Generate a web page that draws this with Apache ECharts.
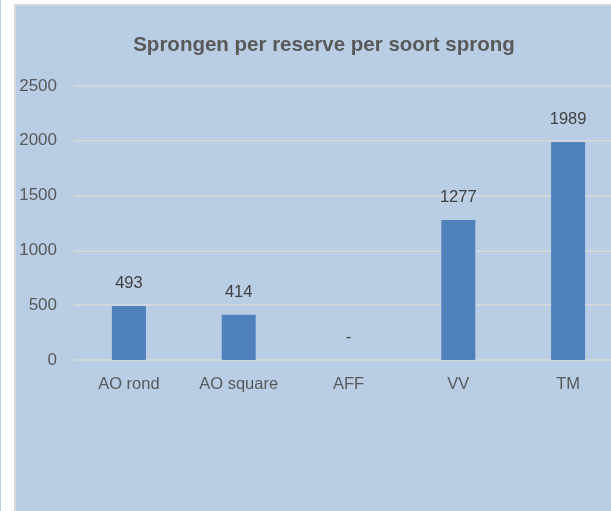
<!DOCTYPE html>
<html>
<head>
<meta charset="utf-8">
<script src="https://cdn.jsdelivr.net/npm/echarts@6/dist/echarts.min.js"></script>
<style>
  html, body { margin: 0; padding: 0; background: #ffffff; overflow: hidden; }
  #wrap { width: 611px; height: 511px; overflow: hidden; position: relative; }
  #chart { width: 624px; height: 511px; position: absolute; left: 0; top: 0; }
</style>
</head>
<body>
<div id="wrap"><div id="chart"></div></div>
<script>
const titleText = 'Sprongen per reserve per soort sprong';
const categories = ['AO rond', 'AO square', 'AFF', 'VV', 'TM'];
const values = [493, 414, 0, 1277, 1989];
const yTicks = [0, 500, 1000, 1500, 2000, 2500];

const chart = echarts.init(document.getElementById('chart'));
chart.setOption({
  backgroundColor: '#ffffff',
  animation: false,
  graphic: [
    { type: 'rect', z: -10, shape: { x: 0, y: 0, width: 1, height: 511 }, style: { fill: '#b9cde5' } },
    { type: 'rect', z: -10, shape: { x: 14, y: 4, width: 610, height: 507 }, style: { fill: '#d9d9d9' } },
    { type: 'rect', z: -9, shape: { x: 16, y: 6, width: 608, height: 505 }, style: { fill: '#b9cde5' } }
  ],
  title: {
    text: titleText,
    left: 319,
    textAlign: 'center',
    top: 30,
    textStyle: { fontFamily: 'Liberation Sans', fontWeight: 'bold', fontSize: 20.5, color: '#595959' }
  },
  grid: { left: 74, right: 1, top: 86, bottom: 151 },
  xAxis: {
    type: 'category',
    data: categories,
    axisLine: { show: false },
    axisTick: { show: false },
    axisLabel: { fontFamily: 'Liberation Sans', fontSize: 16.5, color: '#595959', margin: 16 }
  },
  yAxis: {
    type: 'value',
    min: yTicks[0],
    max: yTicks[yTicks.length - 1],
    interval: yTicks[1] - yTicks[0],
    axisLine: { show: false },
    axisTick: { show: false },
    splitLine: { lineStyle: { color: '#d9d9d9', width: 1.5 } },
    axisLabel: { fontFamily: 'Liberation Sans', fontSize: 17, color: '#595959', margin: 17, formatter: v => String(v) }
  },
  series: [{
    type: 'bar',
    data: values,
    barWidth: 34,
    itemStyle: { color: '#4f81bd' },
    label: {
      show: true,
      position: 'top',
      distance: 14,
      fontFamily: 'Liberation Sans',
      fontSize: 16.5,
      color: '#404040',
      formatter: p => p.value === 0 ? '-' : String(p.value)
    }
  }]
});
</script>
</body>
</html>
